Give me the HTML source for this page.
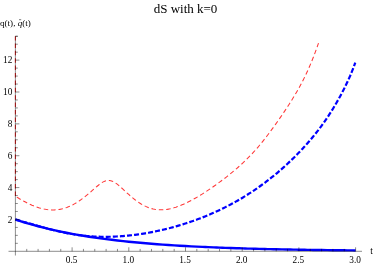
<!DOCTYPE html>
<html><head><meta charset="utf-8"><style>
html,body{margin:0;padding:0;background:#fff;}
svg{display:block;will-change:transform;font-family:"Liberation Serif",serif;}
</style></head><body>
<svg width="374" height="265" viewBox="0 0 374 265">
<rect width="374" height="265" fill="#fff"/>
<path d="M15.4,195.9 L15.4,36.3" stroke="#ff2020" stroke-width="1.05" stroke-dasharray="4.5,2.9" fill="none"/>
<path d="M16.80,197.11 L18.32,198.04 L19.83,198.94 L21.35,199.82 L22.86,200.68 L24.38,201.51 L25.90,202.31 L27.41,203.08 L28.93,203.82 L30.44,204.52 L31.96,205.19 L33.48,205.82 L34.99,206.41 L36.51,206.97 L38.03,207.47 L39.54,207.94 L41.06,208.36 L42.57,208.73 L44.09,209.05 L45.61,209.33 L47.12,209.55 L48.64,209.73 L50.15,209.85 L51.67,209.91 L53.19,209.93 L54.70,209.88 L56.22,209.78 L57.73,209.62 L59.25,209.41 L60.77,209.13 L62.28,208.80 L63.80,208.40 L65.31,207.94 L66.83,207.43 L68.35,206.85 L69.86,206.21 L71.38,205.50 L72.89,204.74 L74.41,203.91 L75.93,203.03 L77.44,202.09 L78.96,201.10 L80.48,200.05 L81.99,198.95 L83.51,197.81 L85.02,196.63 L86.54,195.40 L88.06,194.15 L89.57,192.86 L91.09,191.55 L92.60,190.22 L94.12,188.88 L95.64,187.55 L97.15,186.24 L98.67,184.99 L100.18,183.82 L101.70,182.77 L103.22,181.89 L104.73,181.20 L106.25,180.73 L107.76,180.49 L109.28,180.50 L110.80,180.74 L112.31,181.22 L113.83,181.93 L115.35,182.83 L116.86,183.90 L118.38,185.10 L119.89,186.40 L121.41,187.76 L122.93,189.16 L124.44,190.57 L125.96,191.97 L127.47,193.36 L128.99,194.71 L130.51,196.04 L132.02,197.32 L133.54,198.56 L135.05,199.75 L136.57,200.88 L138.09,201.96 L139.60,202.98 L141.12,203.93 L142.63,204.82 L144.15,205.63 L145.67,206.38 L147.18,207.05 L148.70,207.65 L150.22,208.17 L151.73,208.63 L153.25,209.00 L154.76,209.31 L156.28,209.54 L157.80,209.71 L159.31,209.80 L160.83,209.84 L162.34,209.81 L163.86,209.72 L165.38,209.57 L166.89,209.37 L168.41,209.11 L169.92,208.81 L171.44,208.46 L172.96,208.06 L174.47,207.62 L175.99,207.14 L177.50,206.62 L179.02,206.06 L180.54,205.47 L182.05,204.85 L183.57,204.19 L185.08,203.50 L186.60,202.79 L188.12,202.04 L189.63,201.27 L191.15,200.48 L192.67,199.66 L194.18,198.82 L195.70,197.96 L197.21,197.08 L198.73,196.19 L200.25,195.27 L201.76,194.33 L203.28,193.38 L204.79,192.41 L206.31,191.43 L207.83,190.43 L209.34,189.41 L210.86,188.38 L212.37,187.34 L213.89,186.28 L215.41,185.21 L216.92,184.12 L218.44,183.02 L219.95,181.91 L221.47,180.78 L222.99,179.63 L224.50,178.47 L226.02,177.30 L227.54,176.11 L229.05,174.90 L230.57,173.67 L232.08,172.42 L233.60,171.16 L235.12,169.87 L236.63,168.56 L238.15,167.24 L239.66,165.88 L241.18,164.50 L242.70,163.10 L244.21,161.67 L245.73,160.21 L247.24,158.72 L248.76,157.19 L250.28,155.63 L251.79,154.04 L253.31,152.41 L254.82,150.74 L256.34,149.04 L257.86,147.29 L259.37,145.50 L260.89,143.68 L262.41,141.82 L263.92,139.92 L265.44,137.98 L266.95,136.01 L268.47,134.01 L269.99,131.98 L271.50,129.92 L273.02,127.84 L274.53,125.73 L276.05,123.60 L277.57,121.45 L279.08,119.29 L280.60,117.10 L282.11,114.89 L283.63,112.66 L285.15,110.40 L286.66,108.11 L288.18,105.79 L289.69,103.44 L291.21,101.04 L292.73,98.59 L294.24,96.10 L295.76,93.54 L297.27,90.92 L298.79,88.24 L300.31,85.47 L301.82,82.62 L303.34,79.67 L304.86,76.63 L306.37,73.47 L307.89,70.20 L309.40,66.79 L310.92,63.25 L312.44,59.55 L313.95,55.70 L315.47,51.67 L316.98,47.46 L318.50,43.05" stroke="#ff3838" stroke-width="1.05" stroke-dasharray="4.5,2.9" fill="none"/>
<path d="M15.40,219.67 L17.11,220.11 L18.82,220.56 L20.52,221.01 L22.23,221.48 L23.94,221.95 L25.65,222.42 L27.36,222.91 L29.06,223.39 L30.77,223.88 L32.48,224.37 L34.19,224.85 L35.90,225.34 L37.60,225.83 L39.31,226.31 L41.02,226.79 L42.73,227.27 L44.44,227.74 L46.14,228.20 L47.85,228.66 L49.56,229.11 L51.27,229.55 L52.98,229.98 L54.68,230.40 L56.39,230.82 L58.10,231.22 L59.81,231.61 L61.52,231.99 L63.23,232.35 L64.93,232.71 L66.64,233.05 L68.35,233.38 L70.06,233.69 L71.77,233.99 L73.47,234.27 L75.18,234.54 L76.89,234.80 L78.60,235.04 L80.31,235.26 L82.01,235.47 L83.72,235.66 L85.43,235.84 L87.14,236.01 L88.85,236.15 L90.55,236.28 L92.26,236.40 L93.97,236.50 L95.68,236.59 L97.39,236.66 L99.09,236.72 L100.80,236.76 L102.51,236.79 L104.22,236.80 L105.93,236.80 L107.63,236.79 L109.34,236.76 L111.05,236.72 L112.76,236.66 L114.47,236.60 L116.17,236.52 L117.88,236.42 L119.59,236.32 L121.30,236.20 L123.01,236.07 L124.71,235.93 L126.42,235.77 L128.13,235.61 L129.84,235.43 L131.55,235.24 L133.25,235.04 L134.96,234.83 L136.67,234.60 L138.38,234.37 L140.09,234.12 L141.79,233.86 L143.50,233.59 L145.21,233.31 L146.92,233.02 L148.63,232.72 L150.34,232.40 L152.04,232.08 L153.75,231.74 L155.46,231.39 L157.17,231.04 L158.88,230.67 L160.58,230.29 L162.29,229.90 L164.00,229.50 L165.71,229.08 L167.42,228.66 L169.12,228.22 L170.83,227.78 L172.54,227.32 L174.25,226.85 L175.96,226.38 L177.66,225.88 L179.37,225.38 L181.08,224.87 L182.79,224.34 L184.50,223.81 L186.20,223.26 L187.91,222.70 L189.62,222.13 L191.33,221.54 L193.04,220.95 L194.74,220.34 L196.45,219.72 L198.16,219.08 L199.87,218.44 L201.58,217.78 L203.28,217.11 L204.99,216.42 L206.70,215.72 L208.41,215.01 L210.12,214.29 L211.82,213.55 L213.53,212.79 L215.24,212.03 L216.95,211.25 L218.66,210.45 L220.36,209.64 L222.07,208.81 L223.78,207.97 L225.49,207.12 L227.20,206.25 L228.91,205.36 L230.61,204.46 L232.32,203.54 L234.03,202.61 L235.74,201.66 L237.45,200.69 L239.15,199.71 L240.86,198.71 L242.57,197.69 L244.28,196.65 L245.99,195.60 L247.69,194.52 L249.40,193.43 L251.11,192.33 L252.82,191.20 L254.53,190.05 L256.23,188.89 L257.94,187.70 L259.65,186.49 L261.36,185.27 L263.07,184.02 L264.77,182.76 L266.48,181.47 L268.19,180.16 L269.90,178.83 L271.61,177.47 L273.31,176.10 L275.02,174.70 L276.73,173.28 L278.44,171.84 L280.15,170.37 L281.85,168.88 L283.56,167.36 L285.27,165.82 L286.98,164.26 L288.69,162.67 L290.39,161.06 L292.10,159.41 L293.81,157.74 L295.52,156.05 L297.23,154.32 L298.93,152.57 L300.64,150.78 L302.35,148.96 L304.06,147.11 L305.77,145.22 L307.47,143.29 L309.18,141.32 L310.89,139.32 L312.60,137.27 L314.31,135.18 L316.02,133.04 L317.72,130.85 L319.43,128.61 L321.14,126.31 L322.85,123.96 L324.56,121.55 L326.26,119.08 L327.97,116.54 L329.68,113.93 L331.39,111.26 L333.10,108.50 L334.80,105.67 L336.51,102.76 L338.22,99.76 L339.93,96.68 L341.64,93.50 L343.34,90.22 L345.05,86.83 L346.76,83.32 L348.47,79.65 L350.18,75.79 L351.88,71.70 L353.59,67.32 L355.30,62.61" stroke="#0000ff" stroke-width="2.2" stroke-dasharray="5,2.1" fill="none"/>
<path d="M15.40,219.44C16.34,219.75 19.18,220.69 21.07,221.30C22.96,221.90 24.85,222.48 26.74,223.04C28.63,223.61 30.52,224.16 32.41,224.69C34.30,225.22 36.19,225.74 38.08,226.24C39.97,226.74 41.86,227.23 43.75,227.70C45.64,228.17 47.53,228.63 49.42,229.07C51.31,229.52 53.20,229.95 55.09,230.37C56.98,230.79 58.87,231.19 60.76,231.59C62.65,231.98 64.54,232.36 66.43,232.73C68.32,233.11 70.21,233.46 72.10,233.81C73.99,234.16 75.88,234.50 77.77,234.83C79.66,235.16 81.55,235.48 83.44,235.79C85.33,236.10 87.22,236.40 89.11,236.70C91.00,236.99 92.89,237.27 94.78,237.55C96.67,237.82 98.56,238.09 100.45,238.35C102.34,238.61 104.23,238.86 106.12,239.10C108.01,239.35 109.90,239.58 111.79,239.81C113.68,240.04 115.57,240.26 117.46,240.48C119.35,240.70 121.24,240.91 123.13,241.11C125.02,241.31 126.91,241.51 128.80,241.70C130.69,241.90 132.58,242.08 134.47,242.26C136.36,242.44 138.25,242.62 140.14,242.79C142.03,242.96 143.92,243.12 145.81,243.28C147.70,243.45 149.59,243.60 151.48,243.75C153.37,243.90 155.26,244.05 157.15,244.19C159.04,244.33 160.93,244.47 162.82,244.61C164.71,244.74 166.60,244.87 168.49,244.99C170.38,245.12 172.27,245.24 174.16,245.36C176.05,245.48 177.94,245.60 179.83,245.71C181.72,245.82 183.61,245.93 185.50,246.03C187.39,246.14 189.28,246.24 191.17,246.34C193.06,246.44 194.95,246.54 196.84,246.63C198.73,246.72 200.62,246.81 202.51,246.90C204.40,246.99 206.29,247.07 208.18,247.16C210.07,247.24 211.96,247.32 213.85,247.40C215.74,247.48 217.63,247.55 219.52,247.63C221.41,247.70 223.30,247.77 225.19,247.84C227.08,247.91 228.97,247.98 230.86,248.04C232.75,248.11 234.64,248.17 236.53,248.23C238.42,248.29 240.31,248.35 242.20,248.41C244.09,248.47 245.98,248.52 247.87,248.58C249.76,248.63 251.65,248.69 253.54,248.74C255.43,248.79 257.32,248.84 259.21,248.89C261.10,248.93 262.99,248.98 264.88,249.03C266.77,249.07 268.66,249.12 270.55,249.16C272.44,249.20 274.33,249.24 276.22,249.28C278.11,249.32 280.00,249.36 281.89,249.40C283.78,249.44 285.67,249.48 287.56,249.51C289.45,249.55 291.34,249.58 293.23,249.62C295.12,249.65 297.01,249.68 298.90,249.71C300.79,249.75 302.68,249.78 304.57,249.81C306.46,249.84 308.35,249.86 310.24,249.89C312.13,249.92 314.02,249.95 315.91,249.98C317.80,250.00 319.69,250.03 321.58,250.05C323.47,250.08 325.36,250.10 327.25,250.12C329.14,250.15 331.03,250.17 332.92,250.19C334.81,250.22 336.70,250.24 338.59,250.26C340.48,250.28 342.37,250.30 344.26,250.32C346.15,250.34 348.04,250.36 349.93,250.38C351.82,250.39 354.66,250.42 355.60,250.43" stroke="#0000ff" stroke-width="2.4" fill="none"/>
<g stroke="#000" stroke-opacity="0.6" stroke-width="0.75" fill="none">
<line x1="8.5" y1="251.3" x2="362" y2="251.3"/>
<line x1="15.4" y1="36.3" x2="15.4" y2="255.5"/>
<line x1="15.4" y1="36.3" x2="17.8" y2="36.3"/>
<line x1="26.74" y1="251.3" x2="26.74" y2="248.9"/><line x1="38.08" y1="251.3" x2="38.08" y2="248.9"/><line x1="49.42" y1="251.3" x2="49.42" y2="248.9"/><line x1="60.76" y1="251.3" x2="60.76" y2="248.9"/><line x1="72.10" y1="251.3" x2="72.10" y2="247.3"/><line x1="83.44" y1="251.3" x2="83.44" y2="248.9"/><line x1="94.78" y1="251.3" x2="94.78" y2="248.9"/><line x1="106.12" y1="251.3" x2="106.12" y2="248.9"/><line x1="117.46" y1="251.3" x2="117.46" y2="248.9"/><line x1="128.80" y1="251.3" x2="128.80" y2="247.3"/><line x1="140.14" y1="251.3" x2="140.14" y2="248.9"/><line x1="151.48" y1="251.3" x2="151.48" y2="248.9"/><line x1="162.82" y1="251.3" x2="162.82" y2="248.9"/><line x1="174.16" y1="251.3" x2="174.16" y2="248.9"/><line x1="185.50" y1="251.3" x2="185.50" y2="247.3"/><line x1="196.84" y1="251.3" x2="196.84" y2="248.9"/><line x1="208.18" y1="251.3" x2="208.18" y2="248.9"/><line x1="219.52" y1="251.3" x2="219.52" y2="248.9"/><line x1="230.86" y1="251.3" x2="230.86" y2="248.9"/><line x1="242.20" y1="251.3" x2="242.20" y2="247.3"/><line x1="253.54" y1="251.3" x2="253.54" y2="248.9"/><line x1="264.88" y1="251.3" x2="264.88" y2="248.9"/><line x1="276.22" y1="251.3" x2="276.22" y2="248.9"/><line x1="287.56" y1="251.3" x2="287.56" y2="248.9"/><line x1="298.90" y1="251.3" x2="298.90" y2="247.3"/><line x1="310.24" y1="251.3" x2="310.24" y2="248.9"/><line x1="321.58" y1="251.3" x2="321.58" y2="248.9"/><line x1="332.92" y1="251.3" x2="332.92" y2="248.9"/><line x1="344.26" y1="251.3" x2="344.26" y2="248.9"/><line x1="355.60" y1="251.3" x2="355.60" y2="247.3"/><line x1="15.4" y1="243.34" x2="17.8" y2="243.34"/><line x1="15.4" y1="235.37" x2="17.8" y2="235.37"/><line x1="15.4" y1="227.41" x2="17.8" y2="227.41"/><line x1="15.4" y1="219.44" x2="19.4" y2="219.44"/><line x1="15.4" y1="211.48" x2="17.8" y2="211.48"/><line x1="15.4" y1="203.51" x2="17.8" y2="203.51"/><line x1="15.4" y1="195.55" x2="17.8" y2="195.55"/><line x1="15.4" y1="187.58" x2="19.4" y2="187.58"/><line x1="15.4" y1="179.62" x2="17.8" y2="179.62"/><line x1="15.4" y1="171.65" x2="17.8" y2="171.65"/><line x1="15.4" y1="163.69" x2="17.8" y2="163.69"/><line x1="15.4" y1="155.72" x2="19.4" y2="155.72"/><line x1="15.4" y1="147.75" x2="17.8" y2="147.75"/><line x1="15.4" y1="139.79" x2="17.8" y2="139.79"/><line x1="15.4" y1="131.83" x2="17.8" y2="131.83"/><line x1="15.4" y1="123.86" x2="19.4" y2="123.86"/><line x1="15.4" y1="115.90" x2="17.8" y2="115.90"/><line x1="15.4" y1="107.93" x2="17.8" y2="107.93"/><line x1="15.4" y1="99.97" x2="17.8" y2="99.97"/><line x1="15.4" y1="92.00" x2="19.4" y2="92.00"/><line x1="15.4" y1="84.04" x2="17.8" y2="84.04"/><line x1="15.4" y1="76.07" x2="17.8" y2="76.07"/><line x1="15.4" y1="68.11" x2="17.8" y2="68.11"/><line x1="15.4" y1="60.14" x2="19.4" y2="60.14"/><line x1="15.4" y1="52.18" x2="17.8" y2="52.18"/><line x1="15.4" y1="44.21" x2="17.8" y2="44.21"/><line x1="15.4" y1="36.25" x2="17.8" y2="36.25"/>
</g>
<g font-size="9.3px" fill="#000"><text x="71.6" y="262.5" text-anchor="middle">0.5</text><text x="128.3" y="262.5" text-anchor="middle">1.0</text><text x="185.0" y="262.5" text-anchor="middle">1.5</text><text x="241.7" y="262.5" text-anchor="middle">2.0</text><text x="298.4" y="262.5" text-anchor="middle">2.5</text><text x="355.1" y="262.5" text-anchor="middle">3.0</text><text x="12.4" y="222.7" text-anchor="end">2</text><text x="12.4" y="190.9" text-anchor="end">4</text><text x="12.4" y="159.0" text-anchor="end">6</text><text x="12.4" y="127.2" text-anchor="end">8</text><text x="12.4" y="95.3" text-anchor="end">10</text><text x="12.4" y="63.4" text-anchor="end">12</text>
<text x="371.5" y="254" text-anchor="middle">t</text>
<text x="0" y="26" font-size="9.1px">q(t), <tspan font-style="italic">q</tspan>(t)</text>
<line x1="19" y1="19.7" x2="21.2" y2="19.7" stroke="#444" stroke-width="0.7"/>
</g>
<text x="185.5" y="12.8" font-size="13px" text-anchor="middle" fill="#000">dS with k=0</text>
</svg>
</body></html>
